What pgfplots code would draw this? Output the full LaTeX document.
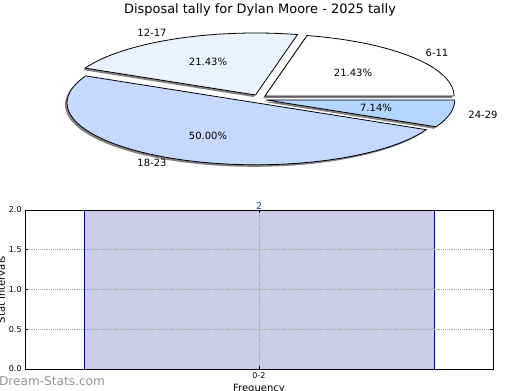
\documentclass[border=0pt]{standalone}
\usepackage{fontspec}
\setmainfont{DejaVu Sans}
\usepackage{pgfplots}
\pgfplotsset{compat=1.18}
\definecolor{sA}{HTML}{FFFFFF}
\definecolor{sB}{HTML}{EBF2FF}
\definecolor{sC}{HTML}{C5D9FF}
\definecolor{sD}{HTML}{B3D5FF}
\definecolor{barfill}{HTML}{CCCCE6}
\definecolor{baredge}{HTML}{000080}
\definecolor{labblue}{HTML}{1F3B8F}
% pie values (percent): 6-11 21.43, 12-17 21.43, 18-23 50.00, 24-29 7.14
\pgfmathsetmacro\aA{0}
\pgfmathsetmacro\aB{21.43*3.6}
\pgfmathsetmacro\aC{(21.43+21.43)*3.6}
\pgfmathsetmacro\aD{(21.43+21.43+50.00)*3.6}
\pgfmathsetmacro\aE{360}
\def\rx{189}
\def\ry{62}
% slice: start, end, apex x, apex y, fill
\newcommand\slice[5]{%
  \addplot[draw=black, line width=0.6pt, fill=#5, domain=#1:#2, samples=70]
    ({#3+\rx*cos(x)},{#4+\ry*sin(x)}) -- (axis cs:#3,#4) -- cycle;}
\newcommand\shadowslice[4]{%
  \addplot[draw=none, fill=black!50, domain=#1:#2, samples=70]
    ({#3-2+\rx*cos(x)},{#4-2+\ry*sin(x)}) -- (axis cs:#3-2,#4-2) -- cycle;}
\begin{document}
\begin{tikzpicture}
\path[use as bounding box] (0,0) rectangle (390pt,292.5pt);
\begin{axis}[at={(0pt,0pt)}, anchor=south west, scale only axis,
  width=390pt, height=292.5pt, xmin=0, xmax=520, ymin=0, ymax=390,
  hide axis, clip=false]
\shadowslice{\aA}{\aB}{265}{294}
\shadowslice{\aB}{\aC}{255.5}{295}
\shadowslice{\aC}{\aD}{256}{287.2}
\shadowslice{\aD}{\aE}{265.8}{290.1}
\slice{\aA}{\aB}{265}{294}{sA}
\slice{\aB}{\aC}{255.5}{295}{sB}
\slice{\aC}{\aD}{256}{287.2}{sC}
\slice{\aD}{\aE}{265.8}{290.1}{sD}
\node[font=\fontsize{9.7}{11}\selectfont] at (axis cs:260,380) {Disposal tally for Dylan Moore - 2025 tally};
\node[font=\fontsize{7.5}{9}\selectfont] at (axis cs:152,357) {12-17};
\node[font=\fontsize{7.5}{9}\selectfont] at (axis cs:437,337) {6-11};
\node[font=\fontsize{7.5}{9}\selectfont] at (axis cs:152,227) {18-23};
\node[font=\fontsize{7.5}{9}\selectfont] at (axis cs:483,275) {24-29};
\node[font=\fontsize{7.5}{9}\selectfont] at (axis cs:208,328) {21.43\%};
\node[font=\fontsize{7.5}{9}\selectfont] at (axis cs:353,317) {21.43\%};
\node[font=\fontsize{7.5}{9}\selectfont] at (axis cs:208,254) {50.00\%};
\node[font=\fontsize{7.5}{9}\selectfont] at (axis cs:376,282) {7.14\%};
\node[font=\fontsize{9.1}{10}\selectfont, text=black!42] at (axis cs:52,9) {Dream-Stats.com};
\end{axis}
\begin{axis}[at={(18.75pt,15.75pt)}, anchor=south west, scale only axis,
  width=351pt, height=119.25pt,
  xmin=-0.535, xmax=0.535, ymin=0, ymax=2,
  ytick={0,0.5,1,1.5,2},
  yticklabel style={/pgf/number format/fixed, /pgf/number format/fixed zerofill, /pgf/number format/precision=1},
  /pgf/number format/assume math mode=true,
  xtick={0}, xticklabels={0-2},
  tick label style={font=\fontsize{6}{7}\selectfont},
  xticklabel style={yshift=1pt},
  yticklabel style={xshift=1pt},
  major tick length=2pt,
  tick style={black, line width=0.4pt},
  grid=major, grid style={densely dotted, black!35, line width=0.6pt},
  axis on top, axis line style={line width=0.7pt},
  xlabel={Frequency}, ylabel={Stat Intervals},
  label style={font=\fontsize{7.5}{9}\selectfont},
  xlabel style={at={(axis description cs:0.5,0)}, anchor=north, yshift=-8pt},
  ylabel style={at={(axis description cs:0,0.5)}, anchor=south, yshift=11.5pt},
  ]
\addplot[ybar, bar width=0.8, fill=barfill, draw=baredge, line width=0.6pt,
  nodes near coords, nodes near coords style={anchor=south, inner sep=0.4pt, font=\fontsize{7}{8}\selectfont, text=labblue}]
  coordinates {(0,2)};
\end{axis}
\end{tikzpicture}
\end{document}
